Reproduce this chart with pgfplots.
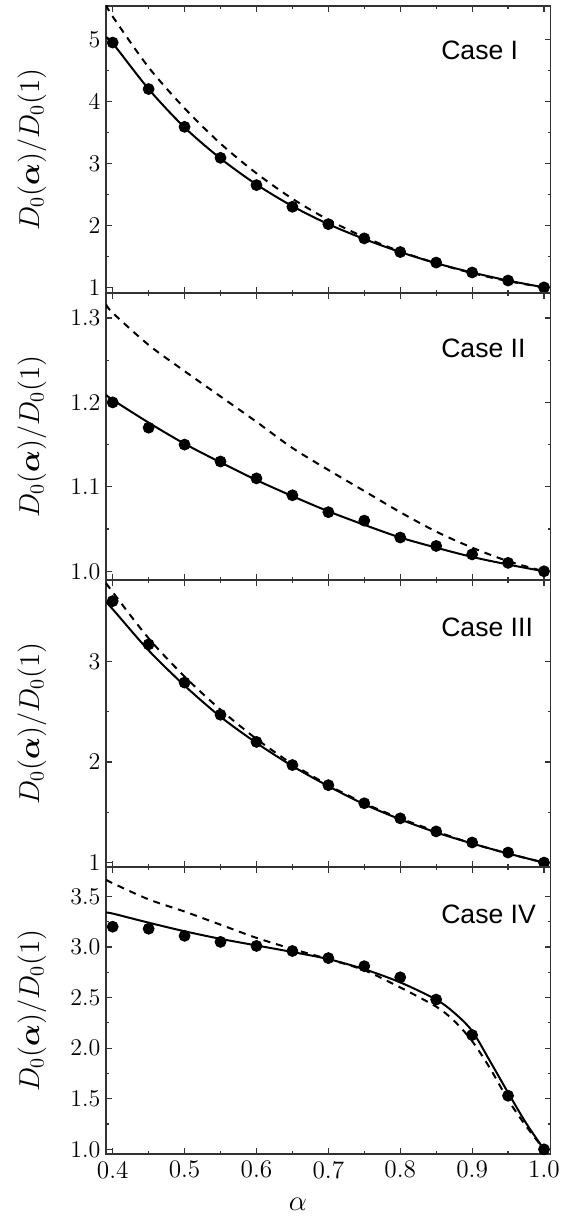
\documentclass[border=0pt]{standalone}
\usepackage{amsmath}
\usepackage{bm}
\usepackage{fontspec}
\newfontfamily\casefont{Liberation Sans}
\usepackage{pgfplots}
\pgfplotsset{compat=1.18}

\tikzset{casel/.style={anchor=west, inner sep=0pt, font=\casefont\fontsize{13.3}{15}\selectfont}}
\pgfplotsset{
  panel/.style={
    scale only axis,
    width=222.35pt, height=143.5pt,
    xmin=0.3907, xmax=1.0093,
    xtick={0.4,0.5,0.6,0.7,0.8,0.9,1.0},
    minor x tick num=1, minor y tick num=1,
    tick align=inside,
    major tick length=3pt, minor tick length=1.6pt,
    axis line style={black!80, line width=0.7pt},
    every tick/.style={black!80, line width=0.6pt},
    xticklabels={},
    tick label style={font=\fontsize{12.6}{15}\selectfont},
    yticklabel style={inner sep=2.6pt},
    ylabel={$D_0(\bm{\alpha})/D_0(1)$},
    every axis y label/.style={at={(axis description cs:-0.1664,0.5)}, rotate=90, anchor=center, font=\fontsize{14}{16}\selectfont},
    every axis x label/.style={at={(axis description cs:0.4317,-0.174)}, anchor=center, font=\fontsize{14}{16}\selectfont},
  },
  dash/.style={black, line width=1pt, dash pattern=on 3.5pt off 3pt, smooth},
  fit/.style={black, line width=1pt, smooth},
  pts/.style={only marks, mark=*, mark size=2.75pt, black},
}

\begin{document}
\begin{tikzpicture}

% Case I
\begin{axis}[panel, at={(0pt,0pt)}, anchor=north west,
  ymin=0.909, ymax=5.54, ytick={1,2,3,4,5}]
\addplot[dash] coordinates {(0.3907,5.56)(0.4,5.37)(0.45,4.55)(0.5,3.89)(0.55,3.32)(0.6,2.84)(0.65,2.43)(0.7,2.09)(0.75,1.81)(0.8,1.58)(0.85,1.39)(0.9,1.23)(0.95,1.10)(1.0,1.0)};
\addplot[fit] coordinates {(0.3907,5.03)(0.4,4.94)(0.45,4.2)(0.5,3.58)(0.55,3.08)(0.6,2.66)(0.65,2.31)(0.7,2.02)(0.75,1.78)(0.8,1.57)(0.85,1.39)(0.9,1.24)(0.95,1.11)(1.0,1.0)};
\addplot[pts] coordinates {(0.4,4.95)(0.45,4.2)(0.5,3.59)(0.55,3.09)(0.6,2.65)(0.65,2.30)(0.7,2.02)(0.75,1.79)(0.8,1.57)(0.85,1.40)(0.9,1.24)(0.95,1.11)(1.0,1.0)};
\node[casel] at (rel axis cs:0.753,0.844) {Case I};
\end{axis}

% Case II
\begin{axis}[panel, at={(0pt,-143.5pt)}, anchor=north west,
  ymin=0.9897, ymax=1.3295, ytick={1.0,1.1,1.2,1.3},
  yticklabel style={/pgf/number format/.cd, fixed, fixed zerofill, precision=1}]
\addplot[dash] coordinates {(0.3907,1.316)(0.4,1.306)(0.45,1.268)(0.5,1.237)(0.55,1.207)(0.6,1.177)(0.65,1.146)(0.7,1.12)(0.75,1.095)(0.8,1.07)(0.85,1.047)(0.9,1.028)(0.95,1.012)(1.0,1.0)};
\addplot[fit] coordinates {(0.3907,1.209)(0.4,1.203)(0.45,1.176)(0.5,1.151)(0.55,1.129)(0.6,1.108)(0.65,1.089)(0.7,1.071)(0.75,1.055)(0.8,1.040)(0.85,1.028)(0.9,1.017)(0.95,1.008)(1.0,1.0)};
\addplot[pts] coordinates {(0.4,1.20)(0.45,1.17)(0.5,1.15)(0.55,1.13)(0.6,1.11)(0.65,1.09)(0.7,1.07)(0.75,1.06)(0.8,1.04)(0.85,1.03)(0.9,1.02)(0.95,1.01)(1.0,1.0)};
\node[casel] at (rel axis cs:0.753,0.808) {Case II};
\end{axis}

% Case III
\begin{axis}[panel, at={(0pt,-287pt)}, anchor=north west,
  ymin=0.956, ymax=3.81, ytick={1,2,3}]
\addplot[dash] coordinates {(0.3907,3.78)(0.4,3.69)(0.45,3.23)(0.5,2.85)(0.55,2.52)(0.6,2.23)(0.65,1.98)(0.7,1.77)(0.75,1.59)(0.8,1.44)(0.85,1.31)(0.9,1.19)(0.95,1.09)(1.0,1.0)};
\addplot[fit] coordinates {(0.3907,3.59)(0.4,3.52)(0.45,3.11)(0.5,2.76)(0.55,2.45)(0.6,2.19)(0.65,1.96)(0.7,1.76)(0.75,1.58)(0.8,1.43)(0.85,1.30)(0.9,1.19)(0.95,1.09)(1.0,1.0)};
\addplot[pts] coordinates {(0.4,3.60)(0.45,3.17)(0.5,2.79)(0.55,2.47)(0.6,2.20)(0.65,1.97)(0.7,1.77)(0.75,1.59)(0.8,1.44)(0.85,1.31)(0.9,1.20)(0.95,1.10)(1.0,1.0)};
\node[casel] at (rel axis cs:0.753,0.834) {Case III};
\end{axis}

% Case IV
\begin{axis}[panel, at={(0pt,-430.5pt)}, anchor=north west,
  ymin=0.954, ymax=3.79, ytick={1.0,1.5,2.0,2.5,3.0,3.5},
  yticklabel style={/pgf/number format/.cd, fixed, fixed zerofill, precision=1},
  xticklabels={0.4,0.5,0.6,0.7,0.8,0.9,1.0},
  xlabel={$\alpha$}]
\addplot[dash] coordinates {(0.3907,3.665)(0.4,3.63)(0.45,3.47)(0.5,3.35)(0.55,3.22)(0.6,3.09)(0.65,2.98)(0.7,2.88)(0.75,2.77)(0.8,2.60)(0.85,2.41)(0.875,2.27)(0.9,2.07)(0.925,1.80)(0.95,1.49)(0.975,1.23)(1.0,1.0)};
\addplot[fit] coordinates {(0.3907,3.34)(0.4,3.33)(0.45,3.24)(0.5,3.155)(0.55,3.08)(0.6,3.015)(0.65,2.95)(0.7,2.88)(0.75,2.78)(0.8,2.65)(0.85,2.48)(0.875,2.35)(0.9,2.17)(0.925,1.87)(0.95,1.56)(0.975,1.26)(1.0,1.0)};
\addplot[pts] coordinates {(0.4,3.20)(0.45,3.18)(0.5,3.11)(0.55,3.05)(0.6,3.01)(0.65,2.96)(0.7,2.89)(0.75,2.81)(0.8,2.70)(0.85,2.48)(0.9,2.13)(0.95,1.53)(1.0,1.0)};
\node[casel] at (rel axis cs:0.753,0.836) {Case IV};
\end{axis}

\pgfresetboundingbox
\path (-53pt,3pt) rectangle (234pt,-606.5pt);
\end{tikzpicture}
\end{document}
